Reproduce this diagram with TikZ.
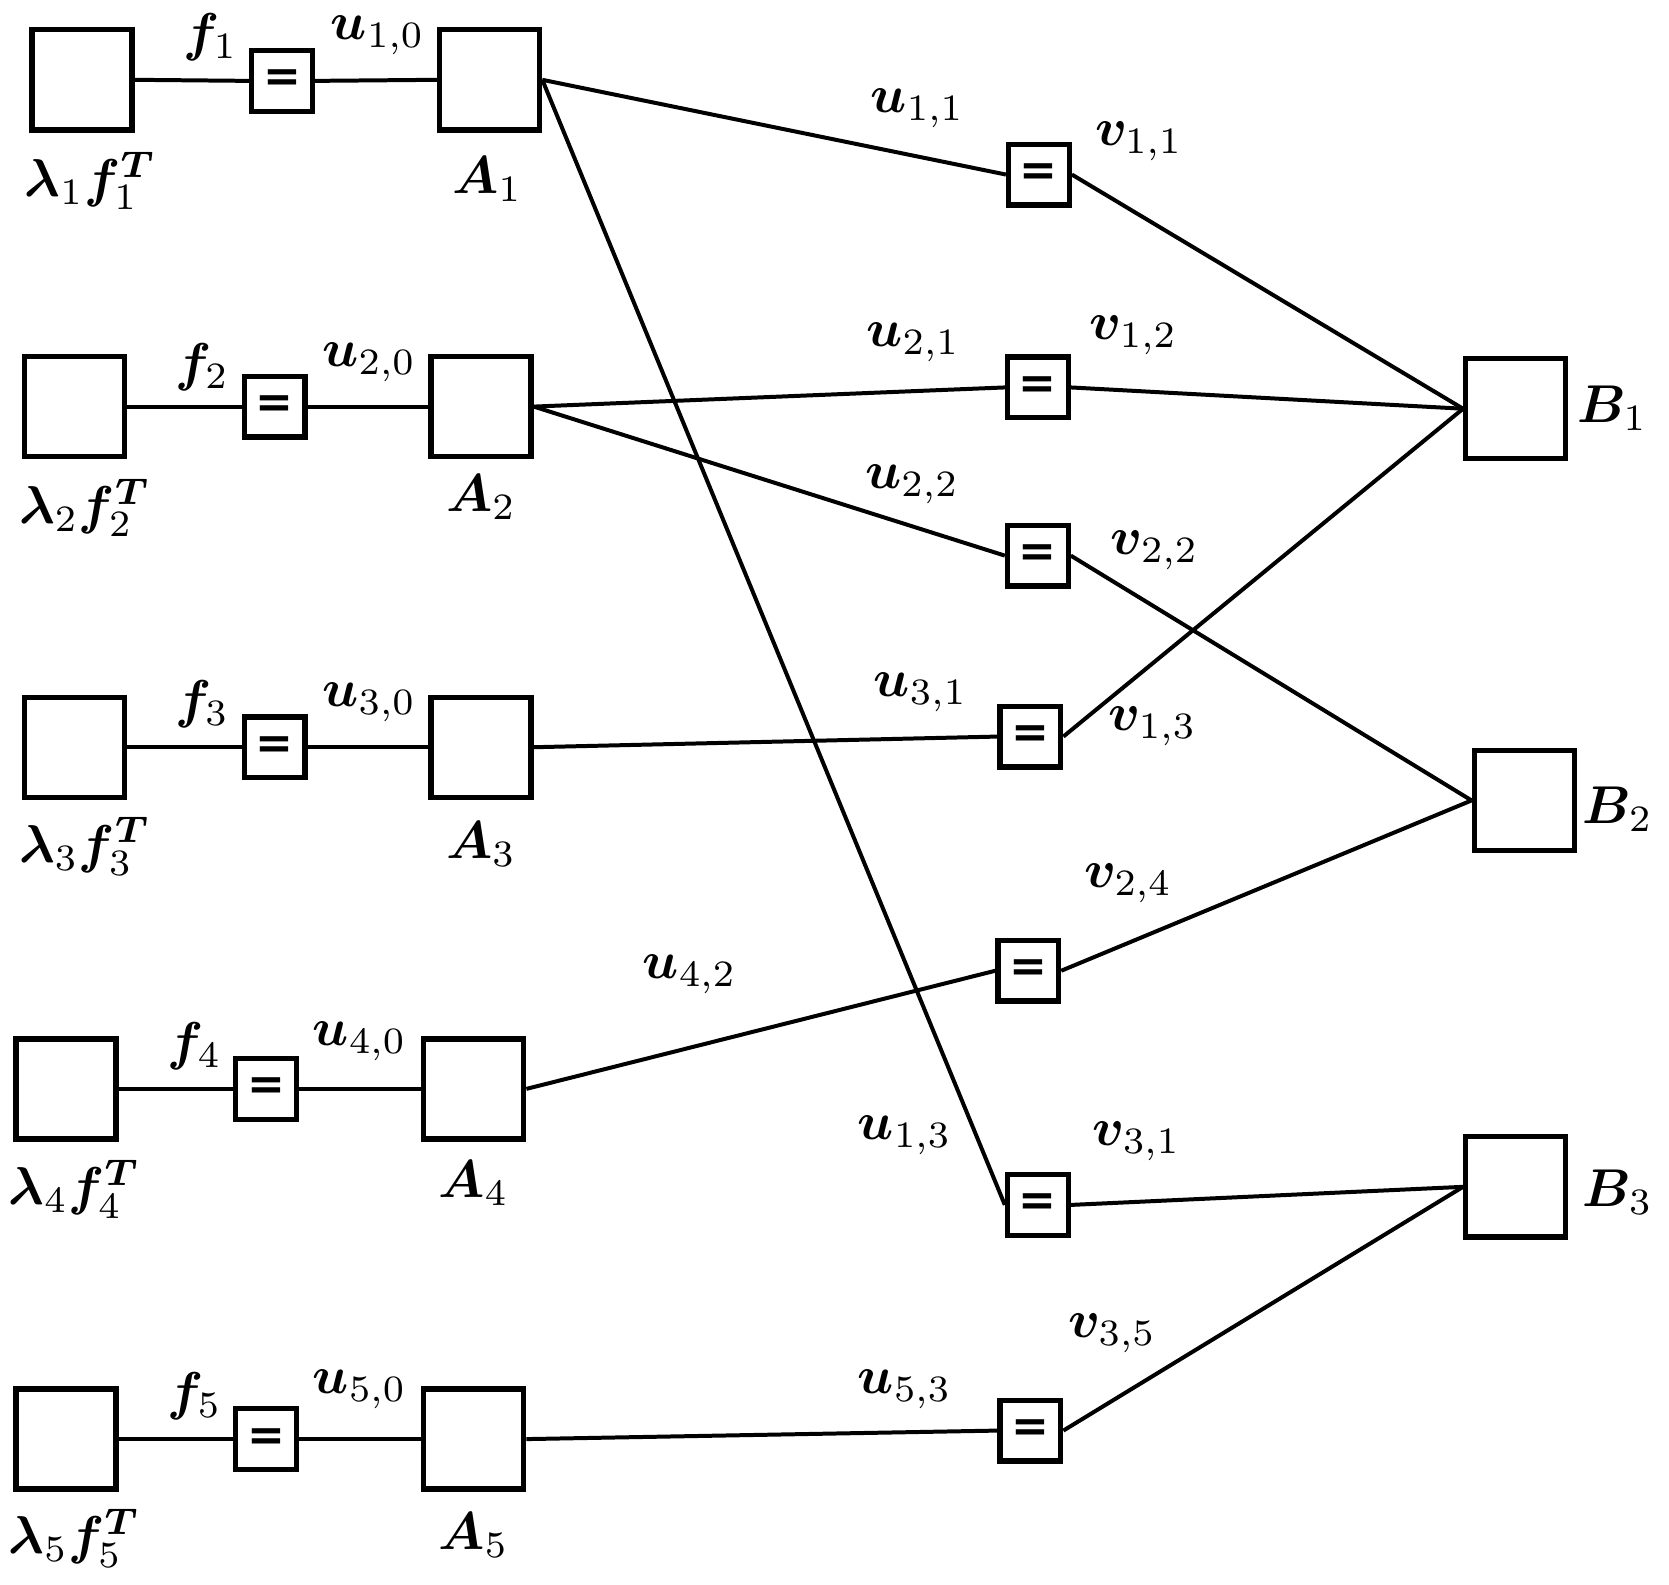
\documentclass[tikz,border=0pt]{standalone}
\usepackage{bm}
\usepackage{fontspec}
\newfontfamily\eqsignfont{DejaVu Sans}
\begin{document}
\begin{tikzpicture}[x=0.2pt,y=-0.2pt,
  bigbox/.style={draw,line width=1pt,minimum size=18.8pt,inner sep=0pt},
  eqbox/.style={draw,line width=1pt,minimum size=11.4pt,inner sep=0pt,font=\eqsignfont\bfseries\fontsize{8.5}{8.5}\selectfont},
  lab/.style={inner sep=0pt},
  wire/.style={line width=0.75pt}]
\useasboundingbox (0,0) rectangle (1568,1489);
% row 1
\node[bigbox] (L1) at (77,75) {};
\node[eqbox] (Q1) at (265,76) {=};
\node[bigbox] (A1) at (460,75) {};
\node[lab] (l1) at (85,170) {$\bm{\lambda}_1\bm{f}_1^{\bm{T}}$};
\node[lab] (a1) at (458,168) {$\bm{A}_1$};
\node[lab] (f1) at (198,35) {$\bm{f}_1$};
\node[lab] (u10) at (355,33) {$\bm{u}_{1,0}$};
% row 2
\node[bigbox] (L2) at (70,382) {};
\node[eqbox] (Q2) at (258,382) {=};
\node[bigbox] (A2) at (452,382) {};
\node[lab] (l2) at (80,477) {$\bm{\lambda}_2\bm{f}_2^{\bm{T}}$};
\node[lab] (a2) at (452,467) {$\bm{A}_2$};
\node[lab] (f2) at (190,345) {$\bm{f}_2$};
\node[lab] (u20) at (347,340) {$\bm{u}_{2,0}$};
% row 3
\node[bigbox] (L3) at (70,702) {};
\node[eqbox] (Q3) at (258,702) {=};
\node[bigbox] (A3) at (452,702) {};
\node[lab] (l3) at (80,795) {$\bm{\lambda}_3\bm{f}_3^{\bm{T}}$};
\node[lab] (a3) at (452,793) {$\bm{A}_3$};
\node[lab] (f3) at (190,662) {$\bm{f}_3$};
\node[lab] (u30) at (347,660) {$\bm{u}_{3,0}$};
% row 4
\node[bigbox] (L4) at (62,1023) {};
\node[eqbox] (Q4) at (250,1023) {=};
\node[bigbox] (A4) at (445,1023) {};
\node[lab] (l4) at (70,1117) {$\bm{\lambda}_4\bm{f}_4^{\bm{T}}$};
\node[lab] (a4) at (445,1112) {$\bm{A}_4$};
\node[lab] (f4) at (183,983) {$\bm{f}_4$};
\node[lab] (u40) at (338,978) {$\bm{u}_{4,0}$};
% row 5
\node[bigbox] (L5) at (62,1352) {};
\node[eqbox] (Q5) at (250,1352) {=};
\node[bigbox] (A5) at (445,1352) {};
\node[lab] (l5) at (70,1445) {$\bm{\lambda}_5\bm{f}_5^{\bm{T}}$};
\node[lab] (a5) at (445,1442) {$\bm{A}_5$};
\node[lab] (f5) at (183,1312) {$\bm{f}_5$};
\node[lab] (u50) at (338,1305) {$\bm{u}_{5,0}$};
% middle equality nodes
\node[eqbox] (E11) at (976,164) {=};
\node[eqbox] (E21) at (975,364) {=};
\node[eqbox] (E22) at (975,522) {=};
\node[eqbox] (E31) at (968,692) {=};
\node[eqbox] (E42) at (966,912) {=};
\node[eqbox] (E13) at (975,1132) {=};
\node[eqbox] (E53) at (968,1344) {=};
\node[lab] (u11) at (862,102) {$\bm{u}_{1,1}$};
\node[lab] (v11) at (1070,133) {$\bm{v}_{1,1}$};
\node[lab] (u21) at (858,322) {$\bm{u}_{2,1}$};
\node[lab] (v12) at (1065,315) {$\bm{v}_{1,2}$};
\node[lab] (u22) at (857,455) {$\bm{u}_{2,2}$};
\node[lab] (v22) at (1085,517) {$\bm{v}_{2,2}$};
\node[lab] (u31) at (865,650) {$\bm{u}_{3,1}$};
\node[lab] (v13) at (1083,682) {$\bm{v}_{1,3}$};
\node[lab] (u42) at (648,915) {$\bm{u}_{4,2}$};
\node[lab] (v24) at (1060,830) {$\bm{v}_{2,4}$};
\node[lab] (u13) at (850,1067) {$\bm{u}_{1,3}$};
\node[lab] (v31) at (1068,1072) {$\bm{v}_{3,1}$};
\node[lab] (u53) at (850,1305) {$\bm{u}_{5,3}$};
\node[lab] (v35) at (1045,1253) {$\bm{v}_{3,5}$};
% right boxes
\node[bigbox] (B1) at (1424,384) {};
\node[bigbox] (B2) at (1432,752) {};
\node[bigbox] (B3) at (1424,1115) {};
\node[lab] (b1) at (1515,384) {$\bm{B}_1$};
\node[lab] (b2) at (1520,760) {$\bm{B}_2$};
\node[lab] (b3) at (1520,1120) {$\bm{B}_3$};
% wires left part
\foreach \i in {1,...,5}{
  \draw[wire] (L\i.east) -- (Q\i.west);
  \draw[wire] (Q\i.east) -- (A\i.west);
}
% wires to middle
\draw[wire] (A1.east) -- (E11.west);
\draw[wire] (A1.east) -- (E13.west);
\draw[wire] (A2.east) -- (E21.west);
\draw[wire] (A2.east) -- (E22.west);
\draw[wire] (A3.east) -- (E31.west);
\draw[wire] (A4.east) -- (E42.west);
\draw[wire] (A5.east) -- (E53.west);
% wires to right
\draw[wire] (E11.east) -- (B1.west);
\draw[wire] (E21.east) -- (B1.west);
\draw[wire] (E31.east) -- (B1.west);
\draw[wire] (E22.east) -- (B2.west);
\draw[wire] (E42.east) -- (B2.west);
\draw[wire] (E13.east) -- (B3.west);
\draw[wire] (E53.east) -- (B3.west);
\end{tikzpicture}
\end{document}
